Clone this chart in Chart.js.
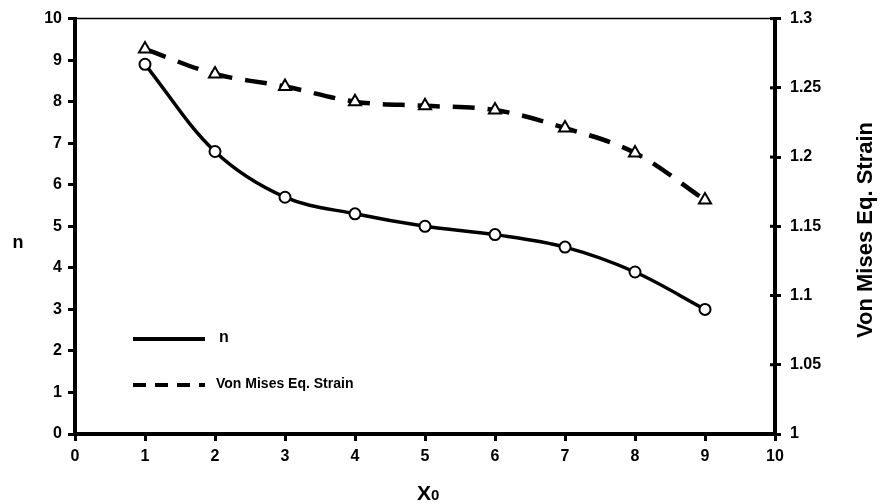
<!DOCTYPE html>
<html>
<head>
<meta charset="utf-8">
<script src="https://cdn.jsdelivr.net/npm/chart.js@4"></script>
<style>
  html, body { margin: 0; padding: 0; background: #fff; }
  #wrap { width: 881px; height: 504px; }
</style>
</head>
<body>
<div id="wrap"><canvas id="chart" width="881" height="504"></canvas></div>
<script>
const xValues = [1, 2, 3, 4, 5, 6, 7, 8, 9];
const nValues = [8.9, 6.8, 5.7, 5.3, 5.0, 4.8, 4.5, 3.9, 3.0];
const strainValues = [1.278, 1.26, 1.251, 1.24, 1.237, 1.234, 1.221, 1.203, 1.169];
const leftTicks = [0, 1, 2, 3, 4, 5, 6, 7, 8, 9, 10];
const rightTicks = [1, 1.05, 1.1, 1.15, 1.2, 1.25, 1.3];

const narrow = "'Liberation Sans Narrow', 'Liberation Sans', Arial, sans-serif";
const sans = "'Liberation Sans', Arial, sans-serif";

// custom titles, legend and thin top border
const decorations = {
  id: "decorations",
  afterDraw(chart) {
    const ctx = chart.ctx;
    const a = chart.chartArea;
    ctx.save();
    ctx.strokeStyle = "#000";
    ctx.lineWidth = 1.5;
    ctx.beginPath();
    ctx.moveTo(a.left, a.top);
    ctx.lineTo(a.right, a.top);
    ctx.stroke();

    // right ticks cross the axis a little
    const y1 = chart.scales.y1;
    ctx.lineWidth = 3;
    rightTicks.forEach((v) => {
      const py = y1.getPixelForValue(v);
      ctx.beginPath();
      ctx.moveTo(a.right - 5, py);
      ctx.lineTo(a.right, py);
      ctx.stroke();
    });

    ctx.fillStyle = "#000";
    ctx.textBaseline = "middle";
    ctx.font = "bold 18px " + sans;
    ctx.textAlign = "center";
    ctx.fillText("n", 18, 243);

    ctx.save();
    ctx.translate(866, 230);
    ctx.rotate(-Math.PI / 2);
    ctx.font = "bold 22px " + sans;
    ctx.fillText("Von Mises Eq. Strain", 0, 0);
    ctx.restore();

    ctx.textAlign = "left";
    ctx.textBaseline = "alphabetic";
    ctx.font = "bold 21px " + narrow;
    ctx.fillText("X", 417, 500);
    ctx.font = "bold 15px " + narrow;
    ctx.fillText("0", 431, 500);

    // legend
    ctx.lineWidth = 4;
    ctx.beginPath();
    ctx.moveTo(a.left + 58, 339);
    ctx.lineTo(a.left + 130, 339);
    ctx.stroke();
    ctx.setLineDash([13, 9]);
    ctx.beginPath();
    ctx.moveTo(a.left + 58, 385);
    ctx.lineTo(a.left + 130, 385);
    ctx.stroke();
    ctx.setLineDash([]);
    ctx.textBaseline = "middle";
    ctx.font = "bold 16px " + sans;
    ctx.fillText("n", a.left + 144, 338);
    ctx.font = "bold 14px " + sans;
    ctx.fillText("Von Mises Eq. Strain", a.left + 141, 384);
    ctx.restore();
  }
};

const ctx = document.getElementById("chart").getContext("2d");
new Chart(ctx, {
  type: "line",
  data: {
    datasets: [
      {
        label: "n",
        data: xValues.map((x, i) => ({ x: x, y: nValues[i] })),
        yAxisID: "y",
        borderColor: "#000",
        borderWidth: 3.5,
        tension: 0.35,
        pointStyle: "circle",
        pointRadius: 5.5,
        pointBorderWidth: 2,
        pointBackgroundColor: "#fff",
        pointBorderColor: "#000",
      },
      {
        label: "Von Mises Eq. Strain",
        data: xValues.map((x, i) => ({ x: x, y: strainValues[i] })),
        yAxisID: "y1",
        borderColor: "#000",
        borderWidth: 4.5,
        borderDash: [22, 13],
        tension: 0.35,
        pointStyle: "triangle",
        pointRadius: 7,
        pointBorderWidth: 2,
        pointBackgroundColor: "#fff",
        pointBorderColor: "#000",
      },
    ],
  },
  options: {
    responsive: false,
    animation: false,
    layout: { padding: { top: 18, left: 0, right: 0, bottom: 0 } },
    plugins: { legend: { display: false }, tooltip: { enabled: false } },
    scales: {
      x: {
        type: "linear",
        min: 0,
        max: 10,
        afterBuildTicks: (s) => { s.ticks = leftTicks.map((v) => ({ value: v })); },
        afterFit: (s) => { s.height = 70; },
        border: { display: true, color: "#000", width: 4 },
        grid: { drawOnChartArea: false, drawTicks: true, tickLength: 7, lineWidth: 3, color: "#000" },
        ticks: { color: "#000", font: { family: narrow, size: 16, weight: "bold" }, padding: 6 },
      },
      y: {
        position: "left",
        min: 0,
        max: 10,
        afterBuildTicks: (s) => { s.ticks = leftTicks.map((v) => ({ value: v })); },
        afterFit: (s) => { s.width = 75; },
        border: { display: true, color: "#000", width: 4 },
        grid: { drawOnChartArea: false, drawTicks: true, tickLength: 7, lineWidth: 3, color: "#000" },
        ticks: { color: "#000", font: { family: narrow, size: 16, weight: "bold" }, padding: 6 },
      },
      y1: {
        position: "right",
        min: 1,
        max: 1.3,
        afterBuildTicks: (s) => { s.ticks = rightTicks.map((v) => ({ value: v })); },
        afterFit: (s) => { s.width = 106; },
        border: { display: true, color: "#000", width: 4 },
        grid: { drawOnChartArea: false, drawTicks: true, tickLength: 6, lineWidth: 3, color: "#000" },
        ticks: {
          color: "#000",
          font: { family: sans, size: 16, weight: "bold" },
          padding: 9,
          callback: (v) => String(Number(v.toFixed(2))),
        },
      },
    },
  },
  plugins: [decorations],
});
</script>
</body>
</html>
